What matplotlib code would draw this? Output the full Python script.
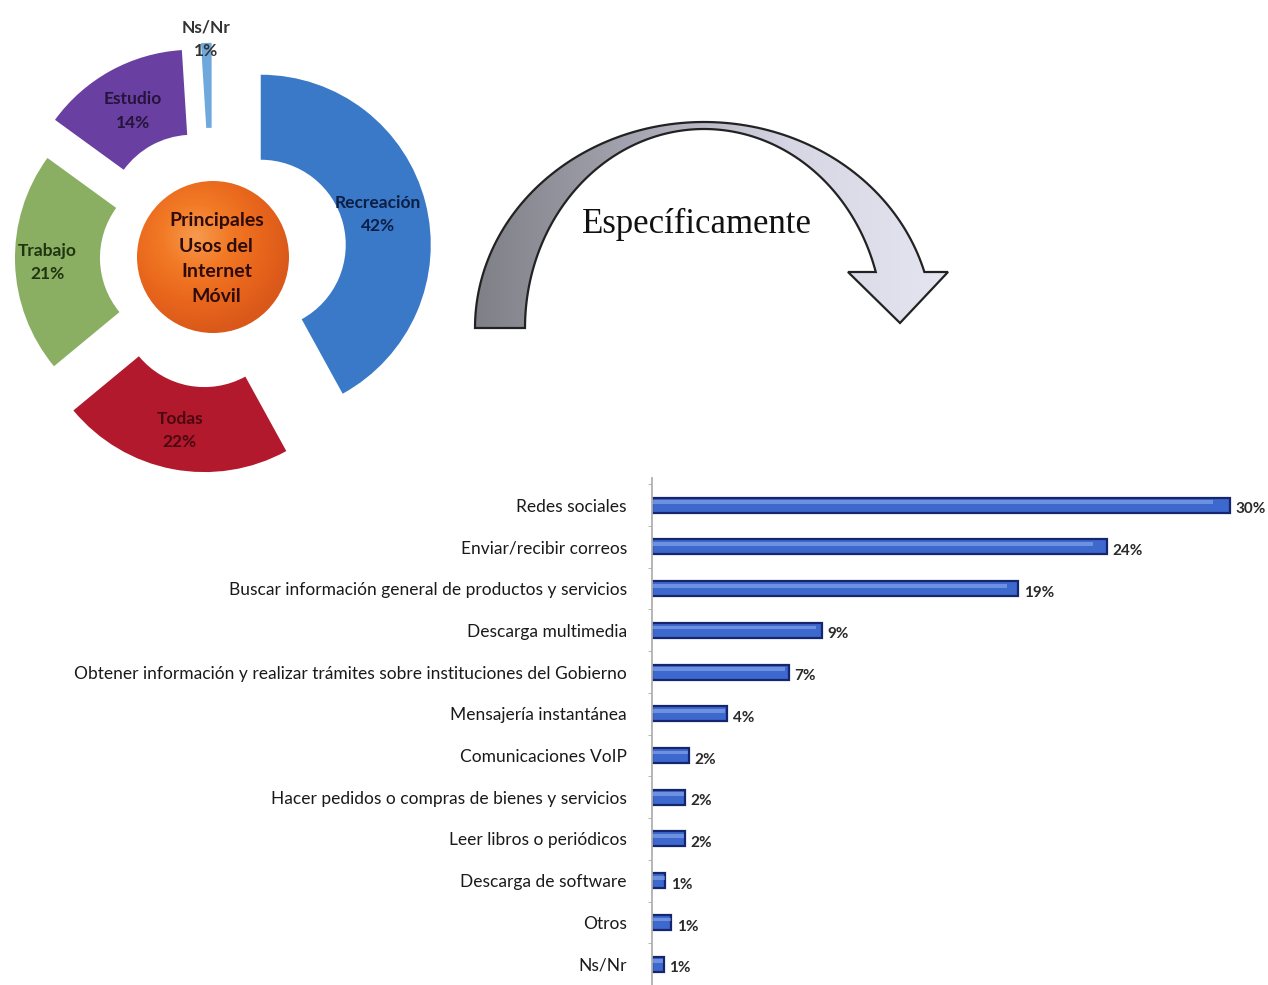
import numpy as np
import matplotlib.pyplot as plt
from matplotlib.patches import Polygon, Circle
from matplotlib.colors import LinearSegmentedColormap

plt.rcParams['font.family'] = ['Lato', 'DejaVu Sans']

# Donut: principales usos del internet movil
usos = ['Recreación', 'Todas', 'Trabajo', 'Estudio', 'Ns/Nr']
usos_pct = [42, 22, 21, 14, 1]
usos_colors = ['#3A78C8', '#B3192C', '#8AAE62', '#6A3FA2', '#6FA8DC']
usos_text = ['#0B1F45', '#4A0810', '#1E3510', '#24143A', '#333333']
usos_explode = [0.29, 0.27, 0.165, 0.25, 0.26]
label_dist = [0.71, 0.77, 0.81, 0.73, 1.02]
centro = 'Principales\nUsos del\nInternet\nMóvil'

# Barras: usos especificos
actividades = ['Redes sociales',
               'Enviar/recibir correos',
               'Buscar información general de productos y servicios',
               'Descarga multimedia',
               'Obtener información y realizar trámites sobre instituciones del Gobierno',
               'Mensajería instantánea',
               'Comunicaciones VoIP',
               'Hacer pedidos o compras de bienes y servicios',
               'Leer libros o periódicos',
               'Descarga de software',
               'Otros',
               'Ns/Nr']
act_valores = np.array([30.0, 23.6, 19.0, 8.8, 7.1, 3.9, 1.9, 1.7, 1.7, 0.7, 1.0, 0.6])

W, H = 1268, 985
fig = plt.figure(figsize=(W / 100, H / 100), dpi=100)

# canvas in pixel coords for the arrow
cv = fig.add_axes([0, 0, 1, 1])
cv.axis('off')

cx, cy = 704, 328
ao, bo, ai, bi = 229, 206, 179, 199
yend = 272
th_o = np.linspace(np.pi, np.arcsin((cy - yend) / bo), 120)
th_i = np.linspace(np.arcsin((cy - yend) / bi), np.pi, 120)
outer = np.c_[cx + ao * np.cos(th_o), cy - bo * np.sin(th_o)]
inner = np.c_[cx + ai * np.cos(th_i), cy - bi * np.sin(th_i)]
head = np.array([[948, yend], [900, 323], [848, yend]])
pts = np.vstack([outer, head, inner])
arrow = Polygon(pts, closed=True, facecolor='none', edgecolor='#222222', lw=1.6, zorder=3)
cv.add_patch(arrow)
gcmap = LinearSegmentedColormap.from_list('g', ['#7E7E86', '#A4A4B0', '#D6D6E4', '#E6E6F2'])
grad = np.linspace(0, 1, 256).reshape(1, -1)
im = cv.imshow(grad, extent=(470, 952, 330, 110), cmap=gcmap, aspect='auto', zorder=2)
im.set_clip_path(arrow)
cv.set_xlim(0, W)
cv.set_ylim(H, 0)
cv.text(697, 224, 'Específicamente', family=['Liberation Serif', 'DejaVu Serif'],
        fontsize=25, ha='center', va='center', color='#111111')

# donut
R = 170
pcx, pcy = 213, 257
half = 240
pax = fig.add_axes([(pcx - half) / W, (H - pcy - half) / H, 2 * half / W, 2 * half / H])
wedges, _ = pax.pie(usos_pct, colors=usos_colors, startangle=90, counterclock=False,
                    explode=usos_explode, radius=1,
                    wedgeprops=dict(width=0.5, edgecolor='none'))
lim = half / R
pax.set_aspect('equal')
pax.axis('off')

for w, name, pct, tc, d in zip(wedges, usos, usos_pct, usos_text, label_dist):
    tm = np.deg2rad((w.theta1 + w.theta2) / 2)
    x0, y0 = w.center
    pax.text(x0 + d * np.cos(tm), y0 + d * np.sin(tm), f'{name}\n{pct}%',
             ha='center', va='center', fontsize=12.5, weight='bold', color=tc,
             linespacing=1.55)

rc = 76 / R
ccmap = LinearSegmentedColormap.from_list('o', ['#F79A4E', '#F27A26', '#E8661C', '#D9581A'])
gx, gy = np.meshgrid(np.linspace(-rc, rc, 200), np.linspace(rc, -rc, 200))
rad = np.hypot(gx + 0.1, gy - 0.12) / (rc * 1.3)
circ = Circle((0, 0), rc, facecolor='none', edgecolor='none')
pax.add_patch(circ)
ci = pax.imshow(np.clip(rad, 0, 1), extent=(-rc, rc, -rc, rc), cmap=ccmap, zorder=2)
ci.set_clip_path(circ)
pax.set_xlim(-lim, lim)
pax.set_ylim(-lim, lim)
pax.text(0.02, -0.01, centro, ha='center', va='center', fontsize=14, weight='bold',
         color='#2E0C0C', linespacing=1.6, zorder=3)

# horizontal bars
bax = fig.add_axes([652 / W, 0, 616 / W, 507 / H])
ypos = np.arange(len(actividades))
bax.barh(ypos, act_valores, height=0.36, color='#3D68CE', edgecolor='#16266E', linewidth=1.6)
bax.barh(ypos - 0.07, act_valores * 0.97, height=0.09, color='#9DB8F2', alpha=0.5, linewidth=0)
for yi, v in zip(ypos, act_valores):
    bax.text(v + 0.3, yi + 0.1, f'{round(v)}%', ha='left', va='center', fontsize=11,
             weight='bold', color='#2A2A2A', clip_on=False)
bax.set_xlim(0, 616 / 19.27)
bax.set_ylim(11.48, -0.65)
bax.set_yticks(ypos)
bax.set_yticklabels(actividades, fontsize=12.5, color='#1A1A1A')
bax.tick_params(axis='y', which='major', length=0, pad=18)
bax.set_yticks(np.arange(-0.5, 12, 1), minor=True)
bax.tick_params(axis='y', which='minor', length=3, color='#AAAAAA')
bax.set_xticks([])
for s in ['top', 'right', 'bottom']:
    bax.spines[s].set_visible(False)
bax.spines['left'].set_color('#B0B0B0')
bax.spines['left'].set_linewidth(1.3)
bax.patch.set_alpha(0)

fig.savefig('out.png', dpi=100)
